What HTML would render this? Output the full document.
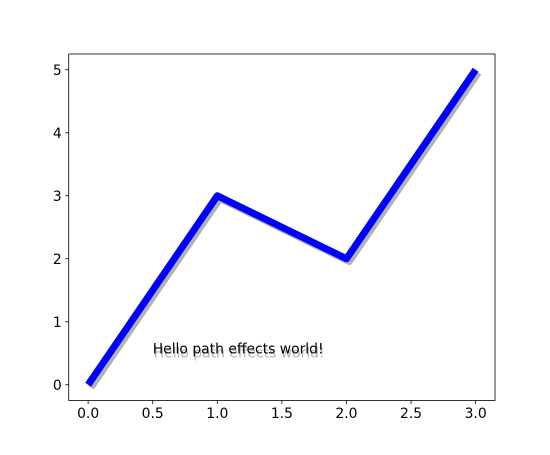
<!DOCTYPE html>
<html><head><meta charset="utf-8"><style>
body{margin:0;background:#fff}
svg text{font-family:"DejaVu Sans","Liberation Sans",sans-serif}
</style></head><body>
<svg width="550" height="450" viewBox="0 0 550 450">
<rect x="0" y="0" width="550" height="450" fill="#fff"/>
<g id="plot"></g>
<rect x="68.75" y="54" width="426.25" height="346.5" fill="none" stroke="#000" stroke-width="0.8"/>
<g id="ticks"></g>
</svg>
<script>
const xValues = [0, 1, 2, 3];
const yValues = [0, 3, 2, 5];
const xTicks = [0, 0.5, 1, 1.5, 2, 2.5, 3];
const xTickLabels = ["0.0","0.5","1.0","1.5","2.0","2.5","3.0"];
const yTicks = [0, 1, 2, 3, 4, 5];
const yTickLabels = ["0","1","2","3","4","5"];
const annotation = {x: 0.5, y: 0.5, text: "Hello path effects world!"};

const L=68.75,R=495,T=54,B=400.5;
const xmin=Math.min(...xValues),xmax=Math.max(...xValues),ymin=Math.min(...yValues),ymax=Math.max(...yValues);
const xl=xmin-(xmax-xmin)*0.05,xh=xmax+(xmax-xmin)*0.05,yl=ymin-(ymax-ymin)*0.05,yh=ymax+(ymax-ymin)*0.05;
const sx=v=>L+(v-xl)/(xh-xl)*(R-L);
const sy=v=>B-(v-yl)/(yh-yl)*(B-T);
const NS="http://www.w3.org/2000/svg";
const plot=document.getElementById('plot'),ticks=document.getElementById('ticks');
function mk(t,a,p){const e=document.createElementNS(NS,t);for(const k in a)e.setAttribute(k,a[k]);p.appendChild(e);return e;}
const pts=xValues.map((x,i)=>sx(x)+','+sy(yValues[i])).join(' ');
const sh=mk('polyline',{points:pts,fill:'none',stroke:'#000','stroke-opacity':0.3,'stroke-width':7,'stroke-linejoin':'round',transform:'translate(2.8,2.8)'},plot);


const ln=mk('polyline',{points:pts,fill:'none',stroke:'#0000ff','stroke-width':7,'stroke-linejoin':'round'},plot);


const ts=mk('text',{x:sx(annotation.x)+1,y:sy(annotation.y)+4,'font-size':13.9,fill:'#000','fill-opacity':0.3},plot);
ts.textContent=annotation.text;


const tx=mk('text',{x:sx(annotation.x),y:sy(annotation.y),'font-size':13.9,fill:'#000'},plot);
tx.textContent=annotation.text;


xTicks.forEach((v,i)=>{
  const x=sx(v);
  const t=mk('line',{x1:x,x2:x,y1:B,y2:B+3.5,stroke:'#000','stroke-width':0.8},ticks);
  
  
  const l=mk('text',{x:x,y:B+17.5,'font-size':13.9,'text-anchor':'middle',fill:'#000'},ticks);
  l.textContent=xTickLabels[i];
  
  
});
yTicks.forEach((v,i)=>{
  const y=sy(v);
  const t=mk('line',{x1:L-3.5,x2:L,y1:y,y2:y,stroke:'#000','stroke-width':0.8},ticks);
  
  
  const l=mk('text',{x:L-7,y:y+5,'font-size':13.9,'text-anchor':'end',fill:'#000'},ticks);
  l.textContent=yTickLabels[i];
  
  
});
</script>
</body></html>
